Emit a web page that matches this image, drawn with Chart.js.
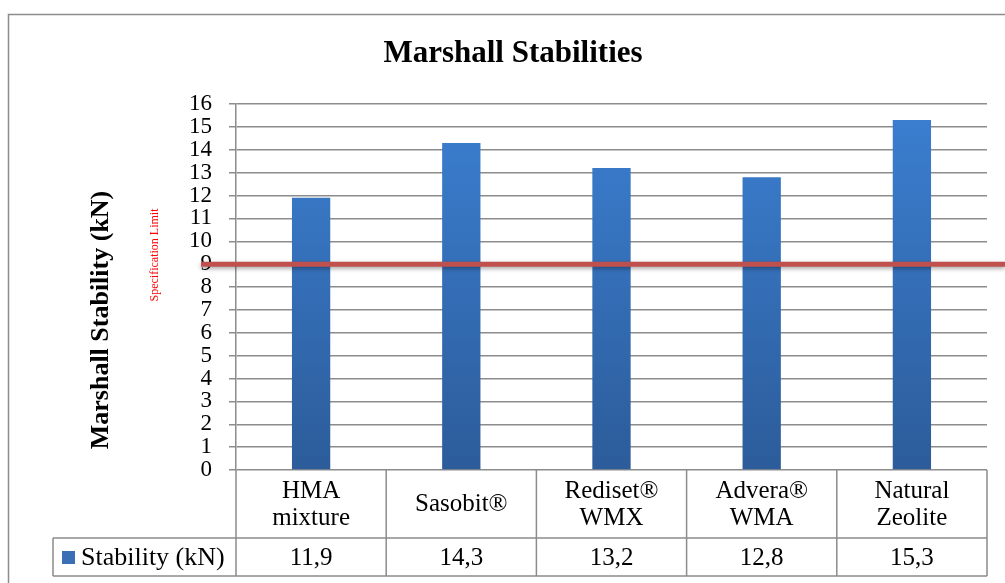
<!DOCTYPE html>
<html>
<head>
<meta charset="utf-8">
<script src="https://cdn.jsdelivr.net/npm/chart.js@4/dist/chart.umd.min.js"></script>
<style>
  html, body { margin: 0; padding: 0; background: #fff; }
  #chart { display: block; }
</style>
</head>
<body>
<canvas id="chart" width="1005" height="583"></canvas>
<script>
const categories = [['HMA', 'mixture'], 'Sasobit®', ['Rediset®', 'WMX'], ['Advera®', 'WMA'], ['Natural', 'Zeolite']];
const stability = [11.9, 14.3, 13.2, 12.8, 15.3];
const seriesName = 'Stability (kN)';
const specLimit = 9;
const chartTitle = 'Marshall Stabilities';
const yTitle = 'Marshall Stability (kN)';
const specLabel = 'Specification Limit';

const FONT = '"Liberation Serif", "Times New Roman", serif';
const GRID = '#8c8c8c';

// table rows, outer frame, titles, spec line
const decor = {
  id: 'decor',
  afterDatasetsDraw(chart) {
    const { ctx, scales: { y } } = chart;
    const py = y.getPixelForValue(specLimit);
    ctx.save();
    ctx.shadowColor = 'rgba(0,0,0,0.35)';
    ctx.shadowBlur = 4;
    ctx.shadowOffsetY = 2;
    ctx.strokeStyle = '#c0504d';
    ctx.lineWidth = 5;
    ctx.beginPath();
    ctx.moveTo(201, py);
    ctx.lineTo(chart.width, py);
    ctx.stroke();
    ctx.restore();
  },
  afterDraw(chart) {
    const { ctx, chartArea: a, scales: { x } } = chart;
    ctx.save();

    // outer frame
    ctx.strokeStyle = '#8c8c8c';
    ctx.lineWidth = 1.5;
    ctx.strokeRect(8.5, 14.5, chart.width + 10, chart.height + 10);

    // title
    ctx.fillStyle = '#000';
    ctx.font = 'bold 31px ' + FONT;
    ctx.textAlign = 'center';
    ctx.textBaseline = 'middle';
    ctx.fillText(chartTitle, 513, 54);

    // y title
    ctx.save();
    ctx.translate(101, 320);
    ctx.rotate(-Math.PI / 2);
    ctx.font = 'bold 26px ' + FONT;
    ctx.fillText(yTitle, 0, 0);
    ctx.restore();

    // spec limit label
    ctx.save();
    ctx.translate(155, 255);
    ctx.rotate(-Math.PI / 2);
    ctx.fillStyle = '#ff0000';
    ctx.font = '12px ' + FONT;
    ctx.fillText(specLabel, 0, 0);
    ctx.restore();

    // data table
    const rowTop = a.bottom;
    const rowMid = 538;
    const rowBot = 576;
    const tableLeft = 53;
    const half = (x.getPixelForValue(1) - x.getPixelForValue(0)) / 2;
    ctx.strokeStyle = GRID;
    ctx.lineWidth = 1.5;
    ctx.beginPath();
    ctx.moveTo(tableLeft, rowMid); ctx.lineTo(a.right, rowMid);
    ctx.moveTo(tableLeft, rowBot); ctx.lineTo(a.right, rowBot);
    ctx.moveTo(tableLeft, rowMid); ctx.lineTo(tableLeft, rowBot);
    ctx.moveTo(a.left, rowTop); ctx.lineTo(a.left, rowBot);
    for (let i = 0; i < categories.length; i++) {
      const r = x.getPixelForValue(i) + half;
      ctx.moveTo(r, rowTop); ctx.lineTo(r, rowBot);
    }
    ctx.stroke();

    ctx.fillStyle = '#000';
    ctx.font = '25px ' + FONT;
    ctx.textAlign = 'center';
    const vy = (rowMid + rowBot) / 2 + 1;
    stability.forEach((v, i) => {
      ctx.fillText(v.toFixed(1).replace('.', ','), x.getPixelForValue(i), vy);
    });

    // legend key
    ctx.fillStyle = '#3a6fb5';
    ctx.fillRect(62, 551, 13, 13);
    ctx.fillStyle = '#000';
    ctx.textAlign = 'left';
    ctx.font = '26px ' + FONT;
    ctx.fillText(seriesName, 81, vy);

    ctx.restore();
  }
};

new Chart(document.getElementById('chart'), {
  type: 'bar',
  data: {
    labels: categories,
    datasets: [{
      label: seriesName,
      data: stability,
      backgroundColor(c) {
        const area = c.chart.chartArea;
        if (!area) return '#3a6fb5';
        const g = c.chart.ctx.createLinearGradient(0, area.top, 0, area.bottom);
        g.addColorStop(0, '#3b7fd1');
        g.addColorStop(1, '#2c5c9a');
        return g;
      },
      categoryPercentage: 1,
      barPercentage: 0.255
    }]
  },
  options: {
    responsive: false,
    animation: false,
    layout: { padding: { left: 0, top: 104, right: 18, bottom: 0 } },
    plugins: {
      legend: { display: false },
      title: { display: false },
      tooltip: { enabled: false }
    },
    scales: {
      x: {
        grid: { display: false, drawTicks: false },
        border: { display: false },
        ticks: {
          color: '#000',
          font: { family: FONT, size: 25, lineHeight: '27px' },
          padding: 21,
          crossAlign: 'center',
          maxRotation: 0,
          autoSkip: false
        },
        afterFit(s) { s.height = 113; }
      },
      y: {
        min: 0,
        max: 16,
        ticks: {
          stepSize: 1,
          autoSkip: false,
          color: '#000',
          font: { family: FONT, size: 23 },
          padding: 17
        },
        grid: { color: GRID, lineWidth: 1.5, tickLength: 7 },
        border: { color: GRID, width: 1.5 },
        afterFit(s) { s.width = 236; }
      }
    }
  },
  plugins: [decor]
});
</script>
</body>
</html>
